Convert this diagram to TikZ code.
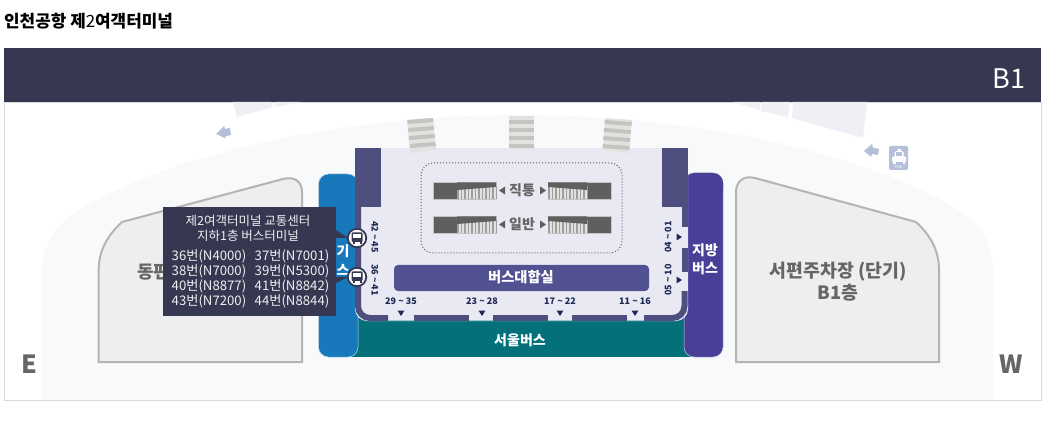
\documentclass[tikz,border=0pt]{standalone}
\usepackage{fontspec}
\newfontfamily\kr{Noto Sans CJK KR}
\usetikzlibrary{positioning}
\definecolor{navyband}{HTML}{353850}
\definecolor{paleback}{HTML}{F8F9FB}
\definecolor{paleroof}{HTML}{EEF0F5}
\definecolor{arrowblue}{HTML}{B4C0D8}
\definecolor{parkfill}{HTML}{EEEEF1}
\definecolor{parkline}{HTML}{B4B4B4}
\definecolor{seoulblue}{HTML}{1878BC}
\definecolor{localpurple}{HTML}{483F97}
\definecolor{busteal}{HTML}{03707A}
\definecolor{hallfill}{HTML}{E9E9F3}
\definecolor{wallfill}{HTML}{4F4F7F}
\definecolor{loungefill}{HTML}{525292}
\definecolor{graytext}{HTML}{666666}
\definecolor{rampdark}{HTML}{5F5F5F}
\definecolor{stripedark}{HTML}{C4C4C0}
\definecolor{stripelight}{HTML}{E2E2E0}
\definecolor{labelnavy}{HTML}{1E2A55}
\begin{document}
\begin{tikzpicture}[x=1pt, y=-1pt, every node/.style={inner sep=0pt, font=\kr},
  park/.style={fill=parkfill, draw=parkline, line width=2pt},
  wall/.style={draw=wallfill, line width=6pt},
  ramp/.style={fill=rampdark, draw=stripedark, line width=0.6pt},
  rampstripe/.style={draw=gray!75, line width=13pt, dash pattern=on 1.8pt off 1.7pt},
  sizebold/.style={font=\kr\bfseries\fontsize{#1}{#1}\selectfont},
  gatelabel/.style={font=\kr\bfseries\fontsize{9}{9}\selectfont, text=labelnavy},
  tiptext/.style={font=\kr\fontsize{12.5}{12.5}\selectfont, text=white!92!navyband},
  tiprow/.style={font=\kr\fontsize{13.2}{13.2}\selectfont, text=white!92!navyband},
  busmark/.style={circle, minimum size=18.5pt, fill=white, draw=navyband, line width=1.8pt},
  businner/.style={fill=navyband, rounded corners=1pt}]
  \useasboundingbox (0,0) rectangle (1056,427);
  % title and band
  \node[anchor=west, font=\kr\fontsize{16.9}{16.9}\selectfont] (title) at (4,21) {\bfseries 인천공항 제{\mdseries 2}여객터미널};
  \fill[white] (4,102) rectangle (1041,400);
  \fill[paleback] (42,400) -- (42,267) .. controls (44,235) and (70,212) .. (97,200) .. controls (200,145) and (370,115) .. (518,115) .. controls (670,115) and (850,145) .. (955,208) .. controls (980,222) and (993,245) .. (993,267) -- (993,400) -- cycle;
  \draw[gray!30, line width=0.8pt] (4,102) rectangle (1041,400);
  \fill[navyband] (4,48) rectangle (1041,102);
  \node[text=white, font=\kr\fontsize{27}{27}\selectfont] (floor) at (1009,79) {B1};
  % roof pieces and arrows
  \fill[paleroof] (233,102) -- (237,117) -- (273,107) -- (271,102) -- cycle;
  \fill[paleroof] (275,102) -- (275,107) -- (302,102) -- cycle;
  \fill[paleroof] (733,102) -- (760,110) -- (760,102) -- cycle;
  \fill[paleroof] (762,102) -- (761,111) -- (788,117) -- (790,102) -- cycle;
  \fill[paleroof] (793,102) -- (792,118) -- (863,138) -- (867,102) -- cycle;
  \fill[arrowblue] (216,134) -- (224,126) -- (225,129) -- (230,128) -- (231,135) -- (225,136.5) -- (226,138.5) -- cycle;
  \fill[arrowblue] (864,151) -- (872,144) -- (873,147.5) -- (879,149) -- (878,155) -- (872,154) -- (871,157) -- cycle;
  % taxi
  \fill[arrowblue, rounded corners=1.5pt] (889,146) rectangle (908,170);
  \fill[white, rounded corners=1pt] (892,156.5) rectangle (906,162);
  \fill[white, rounded corners=1.5pt] (894.5,151) rectangle (903.5,158);
  \fill[arrowblue] (896,152.5) rectangle (902,156.5);
  \fill[white] (897.5,149) rectangle (900.5,151);
  \fill[white] (893,162) rectangle (895.5,164);
  \fill[white] (902.5,162) rectangle (905,164);
  \node[text=white, font=\kr\fontsize{4}{4}\selectfont] (taxi) at (898.5,167.3) {TAXI};
  % parking
  \draw[park] (98.7,362) -- (98.7,270) .. controls (98.7,250) and (108,235) .. (122,222) -- (283,179) .. controls (295,176) and (302,182) .. (302,192) -- (302,362) -- cycle;
  \draw[park] (736,362) -- (736,192) .. controls (736,182) and (743,175) .. (755,178) -- (916,222) .. controls (930,235) and (939,250) .. (939,270) -- (939,362) -- cycle;
  \node[sizebold=18, text=graytext, anchor=west] (east) at (137,272) {동편};
  \node[sizebold=18.3, text=graytext] (westa) at (838,272) {서편주차장 (단기)};
  \node[sizebold=18.3, text=graytext] (westb) at (838,293) {B1층};
  \node[sizebold=25, text=graytext] (markE) at (29,364) {E};
  \node[sizebold=25, text=graytext] (markW) at (1011,364) {W};
  % bus bays
  \fill[busteal] (345,318) rectangle (697,357);
  \draw[white!70!seoulblue, line width=0.5pt, fill=seoulblue, rounded corners=10pt] (318.5,174) rectangle (358,357);
  \draw[white!70!localpurple, line width=0.5pt, fill=localpurple, rounded corners=10pt] (684,173) rectangle (723,357);
  \fill[localpurple, rounded corners=10pt] (684.3,173) rectangle (723,200);
  % building
  \fill[hallfill, rounded corners=12pt] (355,140) rectangle (688,321);
  \fill[paleback] (350,130) rectangle (695,148);
  \fill[wallfill] (355,148) rectangle (381,207.5);
  \fill[wallfill] (662,148) rectangle (687.5,207.5);
  \draw[wall] (358,207) -- (358,306) arc[start angle=180, end angle=90, radius=12] -- (388,318);
  \draw[wall] (414,318) -- (469,318);
  \draw[wall] (493,318) -- (548,318);
  \draw[wall] (572,318) -- (627,318);
  \draw[wall] (644,318) -- (672.5,318) arc[start angle=90, end angle=0, radius=12] -- (684.5,291);
  \draw[wall] (684.5,207) -- (684.5,227);
  \draw[wall] (684.5,248) -- (684.5,272);
  \draw[white!60!busteal, line width=0.6pt] (388,320.5) -- (414,320.5);
  \draw[white!60!busteal, line width=0.6pt] (469,320.5) -- (493,320.5);
  \draw[white!60!busteal, line width=0.6pt] (548,320.5) -- (572,320.5);
  \draw[white!60!busteal, line width=0.6pt] (627,320.5) -- (644,320.5);
  % crosswalks
  \fill[stripelight] (407,120) -- (433,118) -- (436,150) -- (410,153) -- cycle;
  \fill[stripedark] (407.3,120) -- (433,118) -- (433.4,122) -- (407.7,124) -- cycle;
  \fill[stripedark] (408.1,128) -- (433.8,126) -- (434.2,130) -- (408.5,132) -- cycle;
  \fill[stripedark] (408.9,136) -- (434.6,134) -- (435,138) -- (409.3,140) -- cycle;
  \fill[stripedark] (409.7,144) -- (435.4,142) -- (435.8,146) -- (410.1,148) -- cycle;
  \fill[stripelight] (509,116) rectangle (534,149);
  \fill[stripedark] (509,120) rectangle (534,124);
  \fill[stripedark] (509,128) rectangle (534,132);
  \fill[stripedark] (509,136) rectangle (534,140);
  \fill[stripedark] (509,144) rectangle (534,148);
  \fill[stripelight] (605,118) -- (632,120) -- (629,153) -- (603,150) -- cycle;
  \fill[stripedark] (604.8,120) -- (631.8,122) -- (631.4,126) -- (604.4,124) -- cycle;
  \fill[stripedark] (604,128) -- (631,130) -- (630.6,134) -- (603.6,132) -- cycle;
  \fill[stripedark] (603.4,136) -- (630.4,138) -- (630,142) -- (603,140) -- cycle;
  \fill[stripedark] (602.8,144) -- (629.8,146) -- (629.4,150) -- (602.4,148) -- cycle;
  % ramps
  \draw[rampdark, dotted, line width=1pt, rounded corners=12pt] (421,163) rectangle (622,253);
  \draw[ramp] (433,182) rectangle (496,199);
  \fill[stripelight] (457,186) rectangle (496,198.7);
  \draw[rampstripe] (457,192.5) -- (496,192.5);
  \fill[rampdark] (457,182.3) -- (496,182.3) -- (496,187) -- (457,190) -- cycle;
  \draw[ramp] (548,182) rectangle (611,199);
  \fill[stripelight] (548,186) rectangle (587,198.7);
  \draw[rampstripe] (548,192.5) -- (587,192.5);
  \fill[rampdark] (548,182.3) -- (587,182.3) -- (587,190) -- (548,187) -- cycle;
  \draw[ramp] (433,216) rectangle (496,233);
  \fill[stripelight] (457,220) rectangle (496,232.7);
  \draw[rampstripe] (457,226.5) -- (496,226.5);
  \fill[rampdark] (457,216.3) -- (496,216.3) -- (496,221) -- (457,224) -- cycle;
  \draw[ramp] (548,216) rectangle (611,233);
  \fill[stripelight] (548,220) rectangle (587,232.7);
  \draw[rampstripe] (548,226.5) -- (587,226.5);
  \fill[rampdark] (548,216.3) -- (587,216.3) -- (587,224) -- (548,221) -- cycle;
  \node[sizebold=14, text=graytext] (direct) at (522,190) {직통};
  \node[sizebold=14, text=graytext] (general) at (522,224) {일반};
  \fill[rampdark] (499,190.5) -- (505,186.5) -- (505,194.5) -- cycle;
  \fill[rampdark] (546,190.5) -- (540,186.5) -- (540,194.5) -- cycle;
  \fill[rampdark] (499,224.5) -- (505,220.5) -- (505,228.5) -- cycle;
  \fill[rampdark] (546,224.5) -- (540,220.5) -- (540,228.5) -- cycle;
  % lounge and gates
  \fill[loungefill, rounded corners=4pt] (394,265) rectangle (649,291);
  \node[sizebold=14.3, text=white] (lounge) at (521,277.5) {버스대합실};
  \node[sizebold=14, text=white] (seoul) at (520,340) {서울버스};
  \node[sizebold=14, text=white] (locala) at (705,250) {지방};
  \node[sizebold=14, text=white] (localb) at (705,268) {버스};
  \node[sizebold=14, text=white] (expa) at (343,251) {기};
  \node[sizebold=14, text=white] (expb) at (343,270) {스};
  \node[gatelabel, rotate=-90] (gatea) at (375,237) {42 \textasciitilde{} 45};
  \node[gatelabel, rotate=-90] (gateb) at (375,280) {36 \textasciitilde{} 41};
  \node[gatelabel, rotate=90] (gatec) at (668,237) {04 \textasciitilde{} 01};
  \node[gatelabel, rotate=90] (gated) at (668,280) {05 \textasciitilde{} 10};
  \node[gatelabel] (gatee) at (401,301) {29 \textasciitilde{} 35};
  \node[gatelabel] (gatef) at (482,301) {23 \textasciitilde{} 28};
  \node[gatelabel] (gateg) at (560,301) {17 \textasciitilde{} 22};
  \node[gatelabel] (gateh) at (635,301) {11 \textasciitilde{} 16};
  \fill[labelnavy] (682,237) -- (676.5,233.5) -- (676.5,240.5) -- cycle;
  \fill[labelnavy] (682,280) -- (676.5,276.5) -- (676.5,283.5) -- cycle;
  \fill[labelnavy] (401,316) -- (397.5,310.5) -- (404.5,310.5) -- cycle;
  \fill[labelnavy] (482,316) -- (478.5,310.5) -- (485.5,310.5) -- cycle;
  \fill[labelnavy] (560,316) -- (556.5,310.5) -- (563.5,310.5) -- cycle;
  \fill[labelnavy] (635,316) -- (631.5,310.5) -- (638.5,310.5) -- cycle;
  % bus stops tooltip
  \fill[navyband] (163,207) rectangle (336,316);
  \fill[navyband] (336,230) -- (348,238) -- (336,238) -- cycle;
  \fill[navyband] (336,283) -- (348,277) -- (336,277) -- cycle;
  \node[busmark] (stopa) at (357,238) {};
  \node[busmark] (stopb) at (357,277) {};
  \fill[businner] (351.5,232.5) rectangle (362.5,242);
  \fill[white] (353,234.5) rectangle (361,238);
  \fill[navyband] (352.5,242) rectangle (354.5,244);
  \fill[navyband] (359.5,242) rectangle (361.5,244);
  \fill[businner] (351.5,271.5) rectangle (362.5,281);
  \fill[white] (353,273.5) rectangle (361,277);
  \fill[navyband] (352.5,281) rectangle (354.5,283);
  \fill[navyband] (359.5,281) rectangle (361.5,283);
  \node[tiptext] (tipa) at (248,221) {제2여객터미널 교통센터};
  \node[tiptext] (tipb) at (248,236) {지하1층 버스터미널};
  \node[tiprow] (rowa) at (209,256) {36번(N4000)};
  \node[tiprow] (rowb) at (292,256) {37번(N7001)};
  \node[tiprow] (rowc) at (209,271) {38번(N7000)};
  \node[tiprow] (rowd) at (292,271) {39번(N5300)};
  \node[tiprow] (rowe) at (209,286) {40번(N8877)};
  \node[tiprow] (rowf) at (292,286) {41번(N8842)};
  \node[tiprow] (rowg) at (209,301) {43번(N7200)};
  \node[tiprow] (rowh) at (292,301) {44번(N8844)};
\end{tikzpicture}
\end{document}
